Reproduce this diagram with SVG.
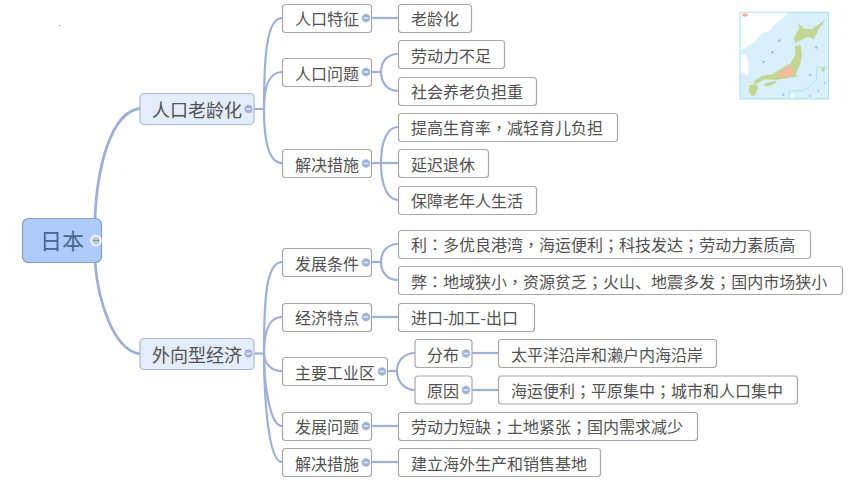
<svg xmlns="http://www.w3.org/2000/svg" width="860" height="484" viewBox="0 0 860 484">
<style>
text{font-family:"Noto Sans CJK SC","Noto Sans",sans-serif;font-size:16px;fill:#525252}
.b{fill:#fff;stroke:#a8a8a8;stroke-width:1.2}
.l1{fill:#e4edfb;stroke:#a9b8d0;stroke-width:1.2}
.r{fill:#aecbfa;stroke:#84a0cc;stroke-width:1.2}
.t1{font-size:18px}
.rt{font-size:22px;fill:#4a6692}
.c{fill:none;stroke:#9fb0d8;stroke-width:2.2}
.c1{fill:none;stroke:#9fb0d8;stroke-width:2.8}
.m{fill:#9fb0d8;stroke:#fff;stroke-width:.6}
.d{stroke:#dfe6f5;stroke-width:1.6}
.p{font-family:"Noto Sans CJK TC",sans-serif}
</style>
<defs><filter id="bl" x="-5%" y="-5%" width="110%" height="110%"><feGaussianBlur stdDeviation="0.5"/></filter></defs>
<rect width="860" height="484" fill="#fff"/>
<rect x="59" y="25" width="1" height="1" fill="#888"/>
<g id="map" transform="translate(720 0) scale(.3333)" filter="url(#bl)">
<rect x="60" y="37" width="266" height="260" fill="#d9effb" stroke="#a4e0f7" stroke-width="3"/>
<path d="M62 38H205L185 58 165 72 150 92 125 100 105 125 88 135 62 152Z" fill="#fff"/>
<path d="M62 165 78 162 85 190 85 226 62 215Z" fill="#fff"/>
<rect x="64" y="40" width="70" height="15" fill="#fff"/>
<ellipse cx="75" cy="45" rx="9" ry="5" fill="#f3b59a"/>
<path d="M235 68 250 85 275 88 318 58 300 82 290 100 282 118 262 110 240 122 226 130 222 118 227 102 238 88Z" fill="#c3d793"/>
<path d="M224 138 242 136 246 165 241 190 228 222 230 230 205 234 170 240 135 238 106 253 100 245 125 228 160 222 185 205 212 190 226 165Z" fill="#c3d793"/>
<path d="M172 224 205 195 216 205 226 222 205 230 172 232Z" fill="#f3bc9c"/>
<path d="M130 252 165 243 172 246 150 257 138 259Z" fill="#c3d793"/>
<path d="M88 256 106 252 114 260 107 284 95 291 86 272Z" fill="#c3d793"/>
<path d="M290 202H326M290 202V240L252 272H208V297" fill="none" stroke="#9ddcf3" stroke-width="2"/>
<path d="M305 205 316 203 312 215 304 213Z" fill="#c3d793"/>
<g fill="#8fcfea"><circle cx="178" cy="122" r="4"/><circle cx="157" cy="157" r="4"/><circle cx="131" cy="186" r="4"/><circle cx="289" cy="142" r="4"/><circle cx="270" cy="225" r="4"/><circle cx="315" cy="250" r="3"/><circle cx="190" cy="284" r="4"/><circle cx="270" cy="288" r="3"/><circle cx="295" cy="272" r="3"/></g>
<path d="M210 285 222 280 218 295 210 295Z" fill="#fff"/>
</g>
<g id="connectors">
<path class="c1" d="M95 218C97 170 110 112 140 108.500"/>
<path class="c1" d="M95 262C98 300 113 350 140 354"/>
<path class="c" d="M254 109H264"/>
<path class="c" d="M264 109C264 60 266 18 282 18"/>
<path class="c" d="M264 109C264 90 268 72 282 72"/>
<path class="c" d="M264 109C264 130 266 163 282 163"/>
<path class="c" d="M254 353.500H264"/>
<path class="c" d="M264 353.500C264 300 266 262 282 262"/>
<path class="c" d="M264 353.500C264 335 268 317 282 317"/>
<path class="c" d="M264 353.500C264 362 270 371 282 371"/>
<path class="c" d="M264 353.500C264 385 270 426 282 426"/>
<path class="c" d="M264 353.500C264 395 268 462 282 462"/>
<path class="c" d="M371 18H398"/>
<path class="c" d="M371 72H381"/>
<path class="c" d="M398 54C387 54 381 62 381 72S387 91 398 91"/>
<path class="c" d="M371 163H398"/>
<path class="c" d="M398 127C387 127 381 142 381 163S387 200 398 200"/>
<path class="c" d="M371 262H381"/>
<path class="c" d="M398 244C387 244 381 252 381 262S387 280 398 280"/>
<path class="c" d="M371 317H398"/>
<path class="c" d="M387 371H397"/>
<path class="c" d="M415 353C404 353 397 361 397 371S404 390 415 390"/>
<path class="c" d="M471 353H498"/>
<path class="c" d="M471 390H498"/>
<path class="c" d="M371 426H398"/>
<path class="c" d="M371 462H398"/>
</g>
<g id="n-root"><rect class="r" x="22.500" y="218.500" width="79" height="44" rx="6"/><text class="rt" x="40" y="249">日本</text><circle cx="96" cy="240.500" r="5" fill="#c4cfe4" stroke="#fff" stroke-width="1.500"/><path d="M93 240.500H99" stroke="#7f93bd" stroke-width="1.400"/></g>
<g id="n-aging"><rect class="l1" x="140" y="93.500" width="114" height="31" rx="4"/><text class="t1" x="152" y="117">人口老龄化</text><circle class="m" cx="248.500" cy="109" r="4.500"/><path class="d" d="M246 109H251"/></g>
<g id="n-export"><rect class="l1" x="140" y="338.500" width="114" height="31" rx="4"/><text class="t1" x="152" y="362">外向型经济</text><circle class="m" cx="248.500" cy="353.500" r="4.500"/><path class="d" d="M246 353.500H251"/></g>
<g id="n-a1"><rect class="b" x="282.500" y="4.500" width="89" height="28" rx="3"/><text x="295" y="25">人口特征</text><circle class="m" cx="366" cy="18" r="4.500"/><path class="d" d="M363.500 18H368.500"/></g>
<g id="n-a2"><rect class="b" x="282.500" y="58.500" width="89" height="28" rx="3"/><text x="295" y="80">人口问题</text><circle class="m" cx="366" cy="72" r="4.500"/><path class="d" d="M363.500 72H368.500"/></g>
<g id="n-a3"><rect class="b" x="282.500" y="149.500" width="89" height="28" rx="3"/><text x="295" y="171">解决措施</text><circle class="m" cx="366" cy="163.500" r="4.500"/><path class="d" d="M363.500 163.500H368.500"/></g>
<g id="n-b1"><rect class="b" x="282.500" y="248.500" width="89" height="28" rx="3"/><text x="295" y="270">发展条件</text><circle class="m" cx="366" cy="262.500" r="4.500"/><path class="d" d="M363.500 262.500H368.500"/></g>
<g id="n-b2"><rect class="b" x="282.500" y="303.500" width="89" height="28" rx="3"/><text x="295" y="324">经济特点</text><circle class="m" cx="366" cy="317" r="4.500"/><path class="d" d="M363.500 317H368.500"/></g>
<g id="n-b3"><rect class="b" x="282.500" y="357.500" width="105" height="28" rx="3"/><text x="295" y="379">主要工业区</text><circle class="m" cx="382" cy="371.500" r="4.500"/><path class="d" d="M379.500 371.500H384.500"/></g>
<g id="n-b4"><rect class="b" x="282.500" y="412.500" width="89" height="28" rx="3"/><text x="295" y="433">发展问题</text><circle class="m" cx="366" cy="426" r="4.500"/><path class="d" d="M363.500 426H368.500"/></g>
<g id="n-b5"><rect class="b" x="282.500" y="448.500" width="89" height="28" rx="3"/><text x="295" y="470">解决措施</text><circle class="m" cx="366" cy="462.500" r="4.500"/><path class="d" d="M363.500 462.500H368.500"/></g>
<g id="n-c1"><rect class="b" x="398.500" y="4.500" width="73" height="28" rx="3"/><text x="411" y="25">老龄化</text></g>
<g id="n-c2"><rect class="b" x="398.500" y="40.500" width="106" height="28" rx="3"/><text x="411" y="62">劳动力不足</text></g>
<g id="n-c3"><rect class="b" x="398.500" y="77.500" width="138" height="28" rx="3"/><text x="411" y="98">社会养老负担重</text></g>
<g id="n-c4"><rect class="b" x="398.500" y="113.500" width="219" height="28" rx="3"/><text x="411" y="134">提高生育率<tspan class="p">，</tspan>减轻育儿负担</text></g>
<g id="n-c5"><rect class="b" x="398.500" y="149.500" width="90" height="28" rx="3"/><text x="411" y="171">延迟退休</text></g>
<g id="n-c6"><rect class="b" x="398.500" y="186.500" width="138" height="28" rx="3"/><text x="411" y="207">保障老年人生活</text></g>
<g id="n-d1"><rect class="b" x="398.500" y="230.500" width="412" height="28" rx="3"/><text x="411" y="251">利<tspan class="p">：</tspan>多优良港湾<tspan class="p">，</tspan>海运便利<tspan class="p">；</tspan>科技发达<tspan class="p">；</tspan>劳动力素质高</text></g>
<g id="n-d2"><rect class="b" x="398.500" y="266.500" width="444" height="28" rx="3"/><text x="411" y="288">弊<tspan class="p">：</tspan>地域狭小<tspan class="p">，</tspan>资源贫乏<tspan class="p">；</tspan>火山、地震多发<tspan class="p">；</tspan>国内市场狭小</text></g>
<g id="n-d3"><rect class="b" x="398.500" y="303.500" width="136" height="28" rx="3"/><text x="411" y="324">进口-加工-出口</text></g>
<g id="n-e1"><rect class="b" x="415" y="339.500" width="57" height="28" rx="3"/><text x="427" y="361">分布</text><circle class="m" cx="466" cy="353.500" r="4.500"/><path class="d" d="M463.500 353.500H468.500"/></g>
<g id="n-e2"><rect class="b" x="415" y="376" width="57" height="28" rx="3"/><text x="427" y="397">原因</text><circle class="m" cx="466" cy="390" r="4.500"/><path class="d" d="M463.500 390H468.500"/></g>
<g id="n-f1"><rect class="b" x="498.500" y="339.500" width="218" height="28" rx="3"/><text x="511" y="361">太平洋沿岸和濑户内海沿岸</text></g>
<g id="n-f2"><rect class="b" x="498.500" y="376" width="299" height="28" rx="3"/><text x="511" y="397">海运便利<tspan class="p">；</tspan>平原集中<tspan class="p">；</tspan>城市和人口集中</text></g>
<g id="n-d4"><rect class="b" x="398.500" y="412.500" width="299" height="28" rx="3"/><text x="411" y="433">劳动力短缺<tspan class="p">；</tspan>土地紧张<tspan class="p">；</tspan>国内需求减少</text></g>
<g id="n-d5"><rect class="b" x="398.500" y="448.500" width="202" height="28" rx="3"/><text x="411" y="470">建立海外生产和销售基地</text></g>
</svg>
